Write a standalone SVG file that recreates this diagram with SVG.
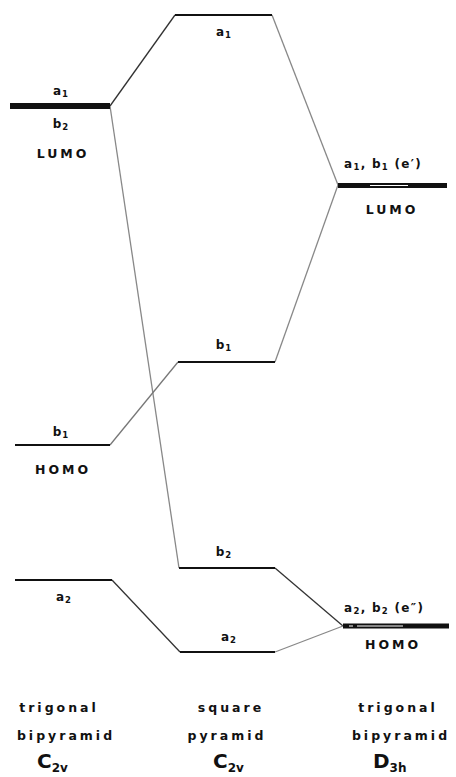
<svg xmlns="http://www.w3.org/2000/svg" width="456" height="777" viewBox="0 0 456 777">
<style>
.lvl{stroke:#111;stroke-width:2.2;fill:none;stroke-linecap:butt}
.thick{stroke:#111;stroke-width:6;fill:none}
.gap{stroke:#fff;stroke-width:1;fill:none}
.con{stroke:#555;stroke-width:1.3;fill:none}
.lbl{font-family:"DejaVu Sans",sans-serif;font-weight:bold;font-size:12px;fill:#111;letter-spacing:1px}
.st{font-family:"DejaVu Sans",sans-serif;font-weight:bold;font-size:12.5px;fill:#111;letter-spacing:3px}
.sub{font-size:8.5px}
.cap{font-family:"DejaVu Sans",sans-serif;font-weight:bold;font-size:12.5px;fill:#111;letter-spacing:3px}
.grp{font-family:"DejaVu Sans",sans-serif;font-weight:bold;font-size:20px;fill:#111}
.gsub{font-size:12px}
</style>
<rect width="456" height="777" fill="#fff"/>
<g id="connectors">
<line class="con" x1="110" y1="106" x2="175" y2="15" style="stroke:#333"/>
<line class="con" x1="110" y1="106" x2="179" y2="568" style="stroke:#888"/>
<line class="con" x1="272" y1="15" x2="338" y2="185" style="stroke:#888"/>
<line class="con" x1="275" y1="362" x2="338" y2="185" style="stroke:#888"/>
<line class="con" x1="110" y1="445" x2="178" y2="362" style="stroke:#777"/>
<line class="con" x1="112" y1="580" x2="180" y2="652" style="stroke:#333"/>
<line class="con" x1="275" y1="568" x2="343" y2="626" style="stroke:#333"/>
<line class="con" x1="275" y1="652" x2="343" y2="626" style="stroke:#888"/>
</g>
<g id="left-a1b2">
<line class="thick" x1="10" y1="106" x2="110" y2="106"/>
<text class="lbl" x="61" y="95" text-anchor="middle">a<tspan class="sub" dy="2">1</tspan></text>
<text class="lbl" x="61" y="128" text-anchor="middle">b<tspan class="sub" dy="2">2</tspan></text>
<text class="st" x="63" y="158" text-anchor="middle">LUMO</text>
</g>
<g id="left-b1">
<line class="lvl" x1="15" y1="445" x2="110" y2="445"/>
<text class="lbl" x="61" y="436" text-anchor="middle">b<tspan class="sub" dy="2">1</tspan></text>
<text class="st" x="63" y="474" text-anchor="middle">HOMO</text>
</g>
<g id="left-a2">
<line class="lvl" x1="15" y1="580" x2="112" y2="580"/>
<text class="lbl" x="64" y="601" text-anchor="middle">a<tspan class="sub" dy="2">2</tspan></text>
</g>
<g id="mid-a1">
<line class="lvl" x1="175" y1="15" x2="272" y2="15"/>
<text class="lbl" x="224" y="36" text-anchor="middle">a<tspan class="sub" dy="2">1</tspan></text>
</g>
<g id="mid-b1">
<line class="lvl" x1="178" y1="362" x2="275" y2="362"/>
<text class="lbl" x="224" y="349" text-anchor="middle">b<tspan class="sub" dy="2">1</tspan></text>
</g>
<g id="mid-b2">
<line class="lvl" x1="179" y1="568" x2="275" y2="568"/>
<text class="lbl" x="224" y="556" text-anchor="middle">b<tspan class="sub" dy="2">2</tspan></text>
</g>
<g id="mid-a2">
<line class="lvl" x1="180" y1="652" x2="275" y2="652"/>
<text class="lbl" x="229" y="641" text-anchor="middle">a<tspan class="sub" dy="2">2</tspan></text>
</g>
<g id="right-lumo">
<line class="thick" x1="338" y1="185.5" x2="447" y2="185.5" style="stroke-width:5"/>
<line class="gap" x1="370" y1="185.5" x2="408" y2="185.5"/>
<text class="lbl" x="344" y="168" style="letter-spacing:1.3px">a<tspan class="sub" dy="2">1</tspan><tspan dy="-2">, b</tspan><tspan class="sub" dy="2">1</tspan><tspan dy="-2"> (e′)</tspan></text>
<text class="st" x="392" y="214" text-anchor="middle">LUMO</text>
</g>
<g id="right-homo">
<line class="thick" x1="343" y1="626" x2="449" y2="626" style="stroke-width:5"/>
<line class="gap" x1="349" y1="626" x2="353" y2="626"/>
<line class="gap" x1="357" y1="626" x2="403" y2="626"/>
<text class="lbl" x="344" y="612" style="letter-spacing:1.3px">a<tspan class="sub" dy="2">2</tspan><tspan dy="-2">, b</tspan><tspan class="sub" dy="2">2</tspan><tspan dy="-2"> (e″)</tspan></text>
<text class="st" x="393" y="649" text-anchor="middle">HOMO</text>
</g>
<g id="caption-left">
<text class="cap" x="59" y="712" text-anchor="middle">trigonal</text>
<text class="cap" x="66" y="740" text-anchor="middle">bipyramid</text>
<text class="grp" x="37" y="768">C<tspan class="gsub" dy="4">2v</tspan></text>
</g>
<g id="caption-mid">
<text class="cap" x="231" y="712" text-anchor="middle">square</text>
<text class="cap" x="227" y="740" text-anchor="middle">pyramid</text>
<text class="grp" x="213" y="768">C<tspan class="gsub" dy="4">2v</tspan></text>
</g>
<g id="caption-right">
<text class="cap" x="398" y="712" text-anchor="middle">trigonal</text>
<text class="cap" x="401" y="740" text-anchor="middle">bipyramid</text>
<text class="grp" x="373" y="768">D<tspan class="gsub" dy="4">3h</tspan></text>
</g>
</svg>
